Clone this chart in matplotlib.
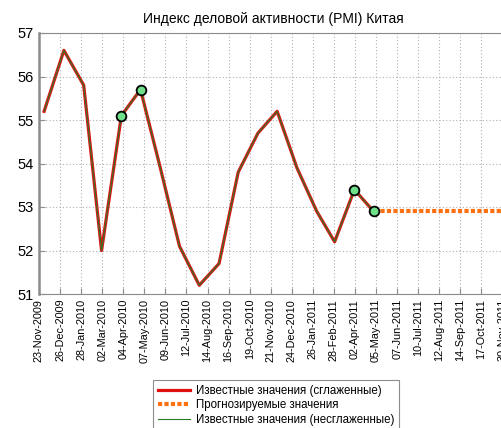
import matplotlib
matplotlib.use("Agg")
import matplotlib.pyplot as plt
import pandas as pd

plt.rcParams['font.family'] = ['Liberation Sans', 'DejaVu Sans']

# данные PMI (месячные)
dates = pd.date_range('2009-12-01', '2011-05-01', freq='MS')
pmi = [55.2, 56.6, 55.8, 52.0, 55.1, 55.7, 53.9, 52.1, 51.2, 51.7,
       53.8, 54.7, 55.2, 53.9, 52.9, 52.2, 53.4, 52.9]

# прогноз
fc_dates = pd.to_datetime(['2011-05-01', '2011-12-31'])
fc_vals = [52.9, 52.9]

# выделенные точки
mark_dates = pd.to_datetime(['2010-04-01', '2010-05-01', '2011-04-01', '2011-05-01'])
mark_vals = [55.1, 55.7, 53.4, 52.9]

tick_labels = ['23-Nov-2009', '26-Dec-2009', '28-Jan-2010', '02-Mar-2010', '04-Apr-2010',
               '07-May-2010', '09-Jun-2010', '12-Jul-2010', '14-Aug-2010', '16-Sep-2010',
               '19-Oct-2010', '21-Nov-2010', '24-Dec-2010', '26-Jan-2011', '28-Feb-2011',
               '02-Apr-2011', '05-May-2011', '07-Jun-2011', '10-Jul-2011', '12-Aug-2011',
               '14-Sep-2011', '17-Oct-2011', '30-Nov-2011']
tick_start = pd.Timestamp('2009-11-23')
tick_pos = [tick_start + pd.Timedelta(days=33 * i) for i in range(len(tick_labels))]

fig = plt.figure(figsize=(5.02, 4.28), dpi=100)
ax = fig.add_axes([39 / 502, 134 / 428, 468 / 502, 261 / 428])

grey = '#8c8c8c'
ax.plot(dates, pmi, color='#e01010', lw=2.3, label='Известные значения (сглаженные)', zorder=3)
ax.plot(fc_dates, fc_vals, color='#ff7010', lw=3.0, linestyle=(0, (1, 0.55)),
        label='Прогнозируемые значения', zorder=3)
ax.plot(dates, pmi, color='#2a7a2a', lw=0.8, label='Известные значения (несглаженные)', zorder=4)
ax.plot(mark_dates, mark_vals, 'o', ms=7, mfc='#6ee08a', mec='black', mew=1.3, zorder=5)

ax.set_ylim(51, 57)
ax.set_yticks(range(51, 58))
ax.set_xlim(tick_start, tick_start + pd.Timedelta(days=733))
ax.set_xticks(tick_pos)
ax.set_xticklabels(tick_labels, rotation=90, fontsize=7.8)
ax.tick_params(axis='y', labelsize=10.5, direction='in', color=grey, length=4)
ax.tick_params(axis='x', direction='in', color=grey, length=4)
ax.grid(True, linestyle=(0, (1, 2)), color='#b0b0b0', lw=0.8)
for s in ax.spines.values():
    s.set_color(grey)
ax.spines['left'].set_linewidth(1.8)

ax.set_title('Индекс деловой активности (PMI) Китая', fontsize=10, pad=7)

leg = fig.legend(loc='upper left', bbox_to_anchor=(153 / 502, 1 - 380 / 428),
                 fontsize=8.3, fancybox=False, edgecolor=grey, framealpha=1,
                 handlelength=2.8, borderaxespad=0, labelspacing=0.25, handletextpad=0.5)
leg.get_frame().set_linewidth(0.8)

fig.savefig('out.png', dpi=100)
